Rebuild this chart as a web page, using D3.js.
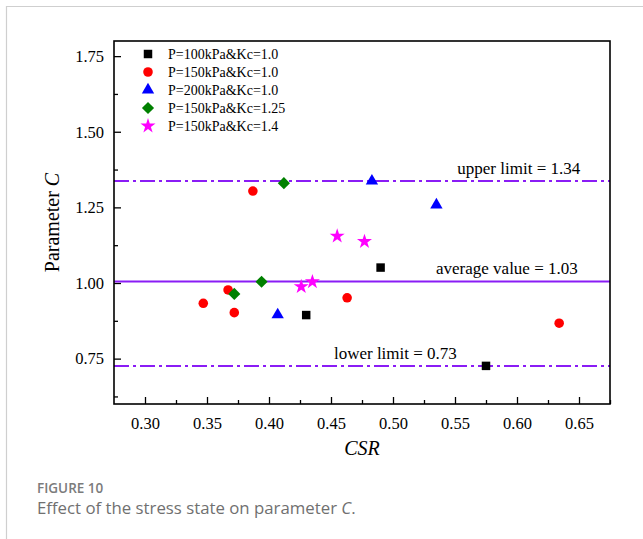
<!DOCTYPE html>
<html lang="en">
<head>
<meta charset="utf-8">
<script src="https://d3js.org/d3.v7.min.js"></script>
<style>
  body { margin: 0px; background: #fff; }
  .tick text { font-family: "Liberation Serif", "Times New Roman", serif; font-size: 16.5px; fill: #000; }
  .axis-title { font-family: "Liberation Serif", "Times New Roman", serif; font-size: 20px; fill: #000; }
  .legend-text { font-family: "Liberation Serif", "Times New Roman", serif; font-size: 14px; fill: #000; }
  .note { font-family: "Liberation Serif", "Times New Roman", serif; font-size: 17px; fill: #000; }
  .fig-num { font-family: "Open Sans", sans-serif; font-size: 13.5px; font-weight: 600; fill: #7b7b7b; }
  .fig-cap { font-family: "Open Sans", sans-serif; font-size: 16.8px; fill: #707070; }
</style>
</head>
<body>
<svg width="643" height="539"></svg>
<script>
// series, CSR vs parameter C
const seriesNames = ['P=100kPa&Kc=1.0', 'P=150kPa&Kc=1.0', 'P=200kPa&Kc=1.0', 'P=150kPa&Kc=1.25', 'P=150kPa&Kc=1.4'];
const seriesColors = ['#000000', '#ff0000', '#0000ff', '#008000', '#ff00ff'];
const seriesShapes = ['square', 'circle', 'triangle', 'diamond', 'star'];

const csr100 = [0.430, 0.490, 0.575];
const c100   = [0.894, 1.051, 0.726];
const csr150 = [0.347, 0.367, 0.372, 0.387, 0.463, 0.634];
const c150   = [0.933, 0.977, 0.902, 1.304, 0.951, 0.867];
const csr200 = [0.407, 0.483, 0.535];
const c200   = [0.895, 1.337, 1.258];
const csrK125 = [0.372, 0.394, 0.412];
const cK125   = [0.964, 1.004, 1.330];
const csrK14 = [0.426, 0.435, 0.455, 0.477];
const cK14   = [0.988, 1.004, 1.155, 1.137];

// reference lines
const limitValues = [1.337, 1.005, 0.726];
const limitLabels = ['upper limit = 1.34', 'average value = 1.03', 'lower limit = 0.73'];
const limitDashed = [true, false, true];

const xTicks = [0.30, 0.35, 0.40, 0.45, 0.50, 0.55, 0.60, 0.65];
const yTicks = [0.75, 1.00, 1.25, 1.50, 1.75];

const xs = [csr100, csr150, csr200, csrK125, csrK14];
const ys = [c100, c150, c200, cK125, cK14];

const margin = { left: 114, right: 33, top: 41, bottom: 135 };
const svg = d3.select('svg');
const width = +svg.attr('width');
const height = +svg.attr('height');
const innerWidth = width - margin.left - margin.right;
const innerHeight = height - margin.top - margin.bottom;

// page frame (top and left edges only are visible)
svg.append('path')
  .attr('d', `M6.5,${height} V6.5 H${width}`)
  .attr('fill', 'none').attr('stroke', '#cfcfcf').attr('stroke-width', 1.2);

const g = svg.append('g')
  .attr('transform', `translate(${margin.left},${margin.top})`);

const xScale = d3.scaleLinear().domain([0.275, 0.675]).range([0, innerWidth]);
const yScale = d3.scaleLinear().domain([0.6, 1.8]).range([innerHeight, 0]);

// axes with inward ticks
const xMinor = xTicks.map(t => t + 0.025);
const yMinor = [0.625].concat(yTicks.map(t => t + 0.125)).filter(t => t < 1.8);

const xAxisG = g.append('g').attr('transform', `translate(0,${innerHeight})`)
  .call(d3.axisBottom(xScale).tickValues(xTicks).tickSize(-7).tickPadding(13).tickFormat(d3.format('.2f')));
const xMinorG = g.append('g').attr('transform', `translate(0,${innerHeight})`)
  .call(d3.axisBottom(xScale).tickValues(xMinor).tickSize(-4));
const yAxisG = g.append('g')
  .call(d3.axisLeft(yScale).tickValues(yTicks).tickSize(-7).tickPadding(10).tickFormat(d3.format('.2f')));
const yMinorG = g.append('g')
  .call(d3.axisLeft(yScale).tickValues(yMinor).tickSize(-4));
xMinorG.selectAll('.tick text').remove();
yMinorG.selectAll('.tick text').remove();

[xAxisG, xMinorG, yAxisG, yMinorG].forEach(a => {
  a.attr('font-family', null).attr('font-size', null);
  a.select('.domain').remove();
  a.selectAll('.tick line').attr('stroke', '#000').attr('stroke-width', 1.3);
  a.selectAll('.tick text').attr('fill', '#000');
});

// reference lines
limitValues.forEach((v, i) => {
  g.append('line')
    .attr('x1', 0).attr('x2', innerWidth)
    .attr('y1', yScale(v)).attr('y2', yScale(v))
    .attr('stroke', '#8a1cf5').attr('stroke-width', 2)
    .attr('stroke-dasharray', limitDashed[i] ? '15,4,3,4' : null);
});
const labelEnds = [0.651, 0.649, 0.5515];
limitLabels.forEach((t, i) => {
  g.append('text').attr('class', 'note')
    .attr('x', xScale(labelEnds[i]))
    .attr('y', yScale(limitValues[i]) - 7)
    .attr('text-anchor', 'end')
    .text(t);
});

// markers
const symbolFor = {
  square: d3.symbol().type(d3.symbolSquare).size(72),
  circle: d3.symbol().type(d3.symbolCircle).size(72),
  triangle: d3.symbol().type(d3.symbolTriangle).size(66),
  diamond: d3.symbol().type(d3.symbolSquare).size(74),
  star: d3.symbol().type(d3.symbolStar).size(70)
};
const rot = shape => shape === 'diamond' ? ' rotate(45)' : '';

xs.forEach((xv, s) => {
  g.selectAll(null).data(xv.map((x, j) => ({ x: x, y: ys[s][j] })))
    .enter().append('path')
      .attr('d', symbolFor[seriesShapes[s]]())
      .attr('transform', d => `translate(${xScale(d.x)},${yScale(d.y)})` + rot(seriesShapes[s]))
      .attr('fill', seriesColors[s]);
});

// box
g.append('rect')
  .attr('x', 0).attr('y', 0)
  .attr('width', innerWidth).attr('height', innerHeight)
  .attr('fill', 'none').attr('stroke', '#000').attr('stroke-width', 1.6);

// legend
const legend = g.append('g').attr('transform', 'translate(34,13)');
seriesNames.forEach((name, i) => {
  const row = legend.append('g').attr('transform', `translate(0,${i * 18})`);
  row.append('path')
    .attr('d', symbolFor[seriesShapes[i]]())
    .attr('transform', rot(seriesShapes[i]).trim() || null)
    .attr('fill', seriesColors[i]);
  row.append('text').attr('class', 'legend-text')
    .attr('x', 20).attr('y', 5)
    .text(name);
});

// axis titles
g.append('text').attr('class', 'axis-title')
  .attr('x', innerWidth / 2).attr('y', innerHeight + 51)
  .attr('text-anchor', 'middle')
  .style('font-style', 'italic')
  .text('CSR');

const yt = g.append('text').attr('class', 'axis-title')
  .attr('transform', `translate(-55,${innerHeight / 2}) rotate(-90)`)
  .attr('text-anchor', 'middle');
yt.append('tspan').text('Parameter ');
yt.append('tspan').style('font-style', 'italic').text('C');

// caption
svg.append('text').attr('class', 'fig-num').attr('x', 37).attr('y', 493).text('FIGURE 10');
const cap = svg.append('text').attr('class', 'fig-cap').attr('x', 37).attr('y', 514);
cap.append('tspan').text('Effect of the stress state on parameter ');
cap.append('tspan').style('font-style', 'italic').text('C');
cap.append('tspan').text('.');
</script>
</body>
</html>
